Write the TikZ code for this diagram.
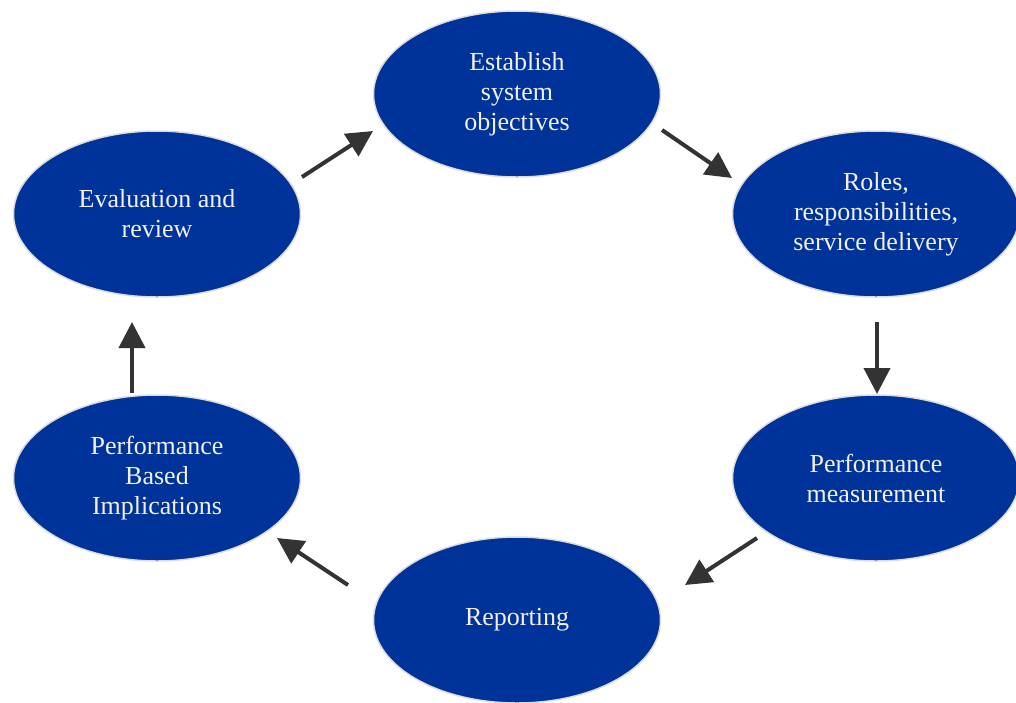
\documentclass[tikz,border=0pt]{standalone}
\usepackage{fontspec}
\setmainfont{Liberation Serif}
\usetikzlibrary{shapes.geometric,arrows.meta}
\definecolor{blobblue}{HTML}{003399}
\definecolor{blobedge}{HTML}{DCDCDC}
\definecolor{blobtext}{HTML}{F0F0F0}
\definecolor{arrowgrey}{HTML}{333333}
\tikzset{
  blob/.style={ellipse, fill=blobblue, draw=blobedge, line width=1.5pt,
    minimum width=287pt, minimum height=166pt, inner sep=0pt,
    text=blobtext, align=center,
    font=\fontsize{26pt}{30pt}\selectfont},
  flow/.style={draw=arrowgrey, line width=4pt,
    -{Triangle[length=26pt,width=26pt]}}
}
\begin{document}
\begin{tikzpicture}[x=1pt,y=-1pt]
\useasboundingbox (0,0) rectangle (1016,702);
\node[blob] (est) at (517,94) {Establish\\system\\objectives};
\node[blob] (roles) at (876,214) {Roles,\\responsibilities,\\service delivery};
\node[blob] (meas) at (876,478) {Performance\\measurement};
\node[blob] (rep) at (517,620) {Reporting};
\node[blob] (impl) at (157,478) {Performance\\Based\\Implications};
\node[blob] (eval) at (157,214) {Evaluation and\\review};
% arrow end points
\coordinate (a1s) at (662,130); \coordinate (a1e) at (732,178);
\coordinate (a2s) at (877,322); \coordinate (a2e) at (877,394);
\coordinate (a3s) at (757,538); \coordinate (a3e) at (685,585);
\coordinate (a4s) at (348,585); \coordinate (a4e) at (277,538);
\coordinate (a5s) at (132,393); \coordinate (a5e) at (132,322);
\coordinate (a6s) at (302,177); \coordinate (a6e) at (373,131);
\draw[flow] (a1s) -- (a1e);
\draw[flow] (a2s) -- (a2e);
\draw[flow] (a3s) -- (a3e);
\draw[flow] (a4s) -- (a4e);
\draw[flow] (a5s) -- (a5e);
\draw[flow] (a6s) -- (a6e);
\end{tikzpicture}
\end{document}
